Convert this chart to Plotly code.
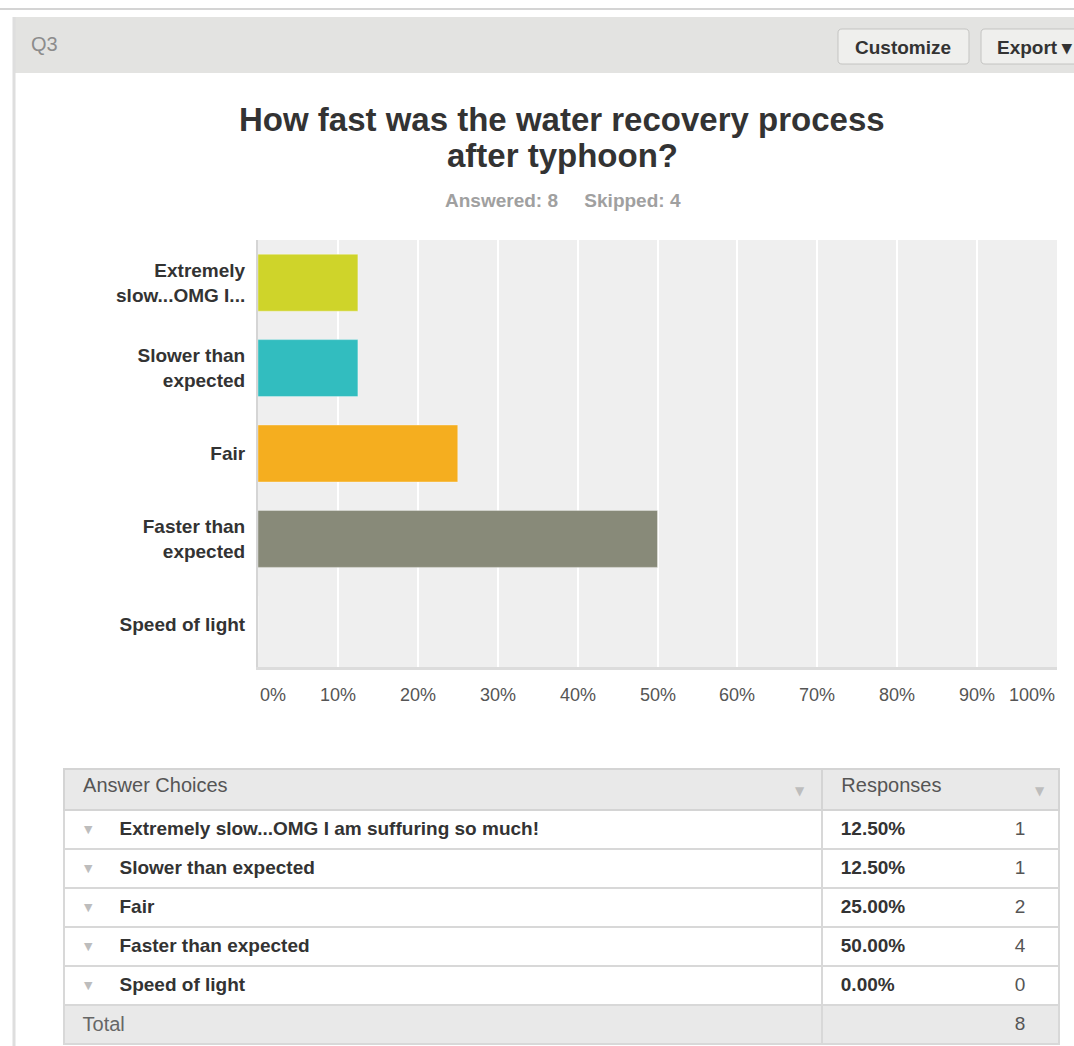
import plotly.graph_objects as go

# ---------------- data ----------------
question_id = "Q3"
title_lines = ["How fast was the water recovery process", "after typhoon?"]
answered = 8
skipped = 4

chart_labels = ["Extremely<br>slow...OMG I...", "Slower than<br>expected", "Fair",
                "Faster than<br>expected", "Speed of light"]
table_labels = ["Extremely slow...OMG I am suffuring so much!", "Slower than expected", "Fair",
                "Faster than expected", "Speed of light"]
counts = [1, 1, 2, 4, 0]
percents = [12.5, 12.5, 25.0, 50.0, 0.0]
total = 8
bar_colors = ["#cfd42a", "#32bdbf", "#f5ae1f", "#888a79", "#cccccc"]
tick_values = [0, 10, 20, 30, 40, 50, 60, 70, 80, 90, 100]
tick_labels = ["0%", "10%", "20%", "30%", "40%", "50%", "60%", "70%", "80%", "90%", "100%"]
table_header = ["Answer Choices", "Responses"]
button_labels = ["Customize", "Export \u25be"]

# ---------------- geometry helpers ----------------
W, H = 1074, 1046
FONT = "Liberation Sans, Arial, Helvetica, sans-serif"
nb = "\u00a0"
TABLE_TOP, HEADER_H, ROW_H = 769, 41, 39.0


def px(x):
    return x / W


def py(y):
    return 1 - y / H


def rrect_path(x0, y0, x1, y1, r):
    pts = [
        ("M", x0 + r, y0), ("L", x1 - r, y0), ("Q", x1, y0, x1, y0 + r),
        ("L", x1, y1 - r), ("Q", x1, y1, x1 - r, y1), ("L", x0 + r, y1),
        ("Q", x0, y1, x0, y1 - r), ("L", x0, y0 + r), ("Q", x0, y0, x0 + r, y0),
    ]
    out = []
    for p in pts:
        cmd = p[0]
        coords = p[1:]
        s = []
        for i in range(0, len(coords), 2):
            s.append(f"{px(coords[i]):.5f},{py(coords[i + 1]):.5f}")
        out.append(cmd + " " + " ".join(s))
    return " ".join(out) + " Z"


fig = go.Figure()

# ---------------- bar chart ----------------
fig.add_trace(go.Bar(
    x=percents, y=chart_labels, orientation="h",
    marker=dict(color=bar_colors, line=dict(color="rgba(255,255,255,0.35)", width=1)),
    width=0.667, hoverinfo="skip", showlegend=False,
))

fig.update_xaxes(
    domain=[px(258), px(1057)], range=[0, 100], tickvals=tick_values,
    showticklabels=False, showgrid=True, gridcolor="#ffffff", gridwidth=2,
    showline=True, linecolor="#dcdcdc", linewidth=3, zeroline=False, ticks="",
    fixedrange=True,
)
fig.update_yaxes(
    domain=[py(667), py(240)], categoryorder="array", categoryarray=chart_labels,
    autorange="reversed", showgrid=False, showline=True, linecolor="#d5d5d5",
    linewidth=2, ticks="", ticklabelstandoff=7,
    tickfont=dict(family=FONT, size=19, color="#333333", weight="bold"),
    fixedrange=True,
)

annotations = []
for v, t in zip(tick_values, tick_labels):
    anchor = "center"
    if v == tick_values[0]:
        anchor = "left"
    elif v == tick_values[-1]:
        anchor = "right"
    annotations.append(dict(
        x=v, xref="x", y=py(695), yref="paper", text=t, showarrow=False,
        xanchor=anchor, yanchor="middle",
        font=dict(family=FONT, size=18, color="#555555"),
    ))

# title and subtitle
for i, line in enumerate(title_lines):
    annotations.append(dict(
        x=px(562), y=py(120 + 35 * i), xref="paper", yref="paper", text=f"<b>{line}</b>",
        showarrow=False, xanchor="center", yanchor="middle",
        font=dict(family=FONT, size=33, color="#333333"),
    ))
annotations.append(dict(
    x=px(563), y=py(201), xref="paper", yref="paper",
    text=f"<b>Answered: {answered}{nb * 5}Skipped: {skipped}</b>",
    showarrow=False, xanchor="center", yanchor="middle",
    font=dict(family=FONT, size=19, color="#a0a0a0"),
))

# header bar
annotations.append(dict(
    x=px(29), y=py(44), xref="paper", yref="paper", text=question_id, showarrow=False,
    xanchor="left", yanchor="middle", font=dict(family=FONT, size=20, color="#8c8c8c"),
))
annotations.append(dict(
    x=px(903), y=py(47), xref="paper", yref="paper", text=button_labels[0], showarrow=False,
    xanchor="center", yanchor="middle", font=dict(family=FONT, size=19, color="#333333", weight="bold"),
))
annotations.append(dict(
    x=px(995), y=py(47), xref="paper", yref="paper", text=button_labels[1], showarrow=False,
    xanchor="left", yanchor="middle", font=dict(family=FONT, size=19, color="#333333", weight="bold"),
))

# dropdown triangles: table header and each answer row
for xx in (800, 1040):
    annotations.append(dict(
        x=px(xx), y=py(TABLE_TOP + 22), xref="paper", yref="paper", text="\u25bc", showarrow=False,
        xanchor="center", yanchor="middle", font=dict(family="DejaVu Sans", size=12, color="#bdbdbd"),
    ))
for i, _ in enumerate(table_labels):
    annotations.append(dict(
        x=px(88), y=py(TABLE_TOP + HEADER_H + ROW_H * i + ROW_H / 2), xref="paper", yref="paper",
        text="\u25bc", showarrow=False, xanchor="center", yanchor="middle",
        font=dict(family="DejaVu Sans", size=11, color="#bdbdbd"),
    ))

shapes = [
    dict(type="line", xref="paper", yref="paper", x0=0, x1=1, y0=py(9), y1=py(9),
         line=dict(color="#d4d4d4", width=2), layer="below"),
    dict(type="rect", xref="paper", yref="paper", x0=px(13), x1=px(1074), y0=py(73), y1=py(17),
         fillcolor="#e3e3e1", line=dict(width=0), layer="below"),
    dict(type="line", xref="paper", yref="paper", x0=px(14), x1=px(14), y0=py(1046), y1=py(17),
         line=dict(color="#dedede", width=3), layer="below"),
    dict(type="path", xref="paper", yref="paper", path=rrect_path(838, 29, 969, 64, 4),
         fillcolor="#efefed", line=dict(color="#c4c4c2", width=1), layer="below"),
    dict(type="path", xref="paper", yref="paper", path=rrect_path(981, 29, 1090, 64, 4),
         fillcolor="#efefed", line=dict(color="#c4c4c2", width=1), layer="below"),
]

# ---------------- table ----------------
col1 = [f"{nb * 9}<b>{lab.replace(' ', nb)}</b>" for lab in table_labels]
col1.append(f"{nb * 2}<span style='color:#666666;font-size:20px'>Total</span>")
col2 = [f"{nb * 2}<b>{p:.2f}%</b>" for p in percents]
col2.append("")
fills = ["#ffffff"] * len(table_labels) + ["#e9e9e9"]

fig.add_trace(go.Table(
    domain=dict(x=[px(64), px(1060)], y=[0, py(TABLE_TOP)]),
    columnwidth=[759, 237],
    header=dict(
        values=[f"{nb * 2}{h.replace(' ', nb)}" for h in table_header], height=HEADER_H, align="left",
        fill=dict(color="#e9e9e9"), line=dict(color="#d4d4d4", width=2),
        font=dict(family=FONT, size=20, color="#555555"),
    ),
    cells=dict(
        values=[col1, col2], height=ROW_H, align="left",
        fill=dict(color=[fills, fills]), line=dict(color="#d8d8d8", width=2),
        font=dict(family=FONT, size=19, color="#333333"),
    ),
))

fig.add_trace(go.Table(
    domain=dict(x=[px(990), px(1050)], y=[0, py(TABLE_TOP)]),
    header=dict(values=[""], height=HEADER_H + 2.8, fill=dict(color="rgba(0,0,0,0)"),
                line=dict(color="rgba(0,0,0,0)", width=0)),
    cells=dict(
        values=[[str(c) for c in counts] + [str(total)]], height=ROW_H, align="center",
        fill=dict(color="rgba(0,0,0,0)"), line=dict(color="rgba(0,0,0,0)", width=0),
        font=dict(family=FONT, size=19, color="#555555"),
    ),
))

fig.update_layout(
    width=W, height=H, autosize=False, margin=dict(l=0, r=0, t=0, b=0),
    paper_bgcolor="#ffffff", plot_bgcolor="#efefef",
    annotations=annotations, shapes=shapes, showlegend=False, bargap=0.33,
    font=dict(family=FONT),
)

fig.write_html(
    "out.html", config={"displayModeBar": False},
    post_script="document.body.style.margin='0';document.body.style.overflow='hidden';"
                "document.documentElement.style.overflow='hidden';",
)
